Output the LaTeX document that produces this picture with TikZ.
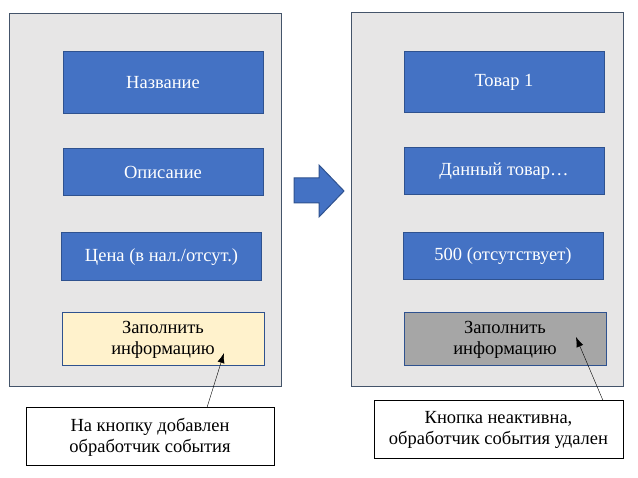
\documentclass[tikz,border=0pt]{standalone}
\usepackage{fontspec}
\setmainfont{Liberation Serif}
\newfontfamily\labelfont{Liberation Serif}
\usetikzlibrary{calc,positioning,arrows.meta}

\definecolor{fieldblue}{HTML}{4472C4}
\definecolor{fieldedge}{HTML}{2F528F}
\definecolor{panelgray}{HTML}{E7E6E6}
\definecolor{paneledge}{HTML}{44546A}
\definecolor{btnyellow}{HTML}{FFF2CC}
\definecolor{btngray}{HTML}{A6A6A6}

\tikzset{
  txt/.style={font=\labelfont\fontsize{18.5}{21}\selectfont},
  panel/.style={draw=paneledge,fill=panelgray,line width=1pt,minimum width=272pt,minimum height=373pt},
  field/.style={txt,draw=fieldedge,fill=fieldblue,line width=1pt,text=white,minimum width=200pt},
  button/.style={txt,draw=fieldedge,line width=1pt,minimum width=202pt,minimum height=53pt,align=center},
  note/.style={txt,draw=black,fill=white,line width=1pt,minimum width=248pt,minimum height=58pt,align=center},
  pointer/.style={-{Latex[length=10pt,width=7pt]},thin}
}

\begin{document}
\begin{tikzpicture}[x=1pt,y=-1pt]
  \useasboundingbox (0,0) rectangle (638,478);

  % Left panel
  \node[panel] (panelL) at (145,200.5) {};
  \node[field,minimum height=62pt] (nameL) at (163,83) {Название};
  \node[field,minimum height=47pt] (descL) at (163,172.5) {Описание};
  \node[field,minimum height=48pt] (priceL) at (161.5,257) {Цена (в нал./отсут.)};
  \node[button,fill=btnyellow] (btnL) at (163,339.5) {Заполнить\\информацию};

  % Block arrow
  \draw[fieldedge,fill=fieldblue,line width=1pt] (294,178) -- (319,178) -- (319,165) -- (344,191)
    -- (319,217) -- (319,203) -- (294,203) -- cycle;

  % Right panel
  \node[panel,minimum height=374pt] (panelR) at (487,200) {};
  \node[field,minimum height=61pt] (nameR) at (504,82.5) {Товар 1};
  \node[field,minimum height=47pt] (descR) at (504,171.5) {Данный товар…};
  \node[field,minimum height=47pt] (priceR) at (503,256.5) {500 (отсутствует)};
  \node[button,fill=btngray] (btnR) at (505,339.5) {Заполнить\\информацию};

  % Notes
  \node[note] (noteL) at (150,437) {На кнопку добавлен\\обработчик события};
  \node[note,minimum width=249pt] (noteR) at (498.5,430) {Кнопка неактивна,\\обработчик события удален};

  % Pointers
  \coordinate (tipL) at (224,353);
  \coordinate (tipR) at (576,337);
  \draw[pointer] ($(noteL.north)+(57,0)$) -- (tipL);
  \draw[pointer] ($(noteR.north)+(104.5,0)$) -- (tipR);
\end{tikzpicture}
\end{document}
